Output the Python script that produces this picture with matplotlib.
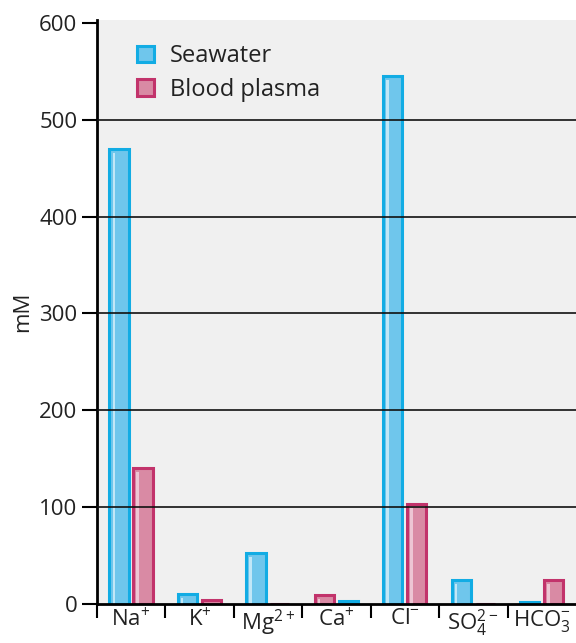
import matplotlib
matplotlib.use("Agg")
import matplotlib.pyplot as plt
import numpy as np

# data
ions = ["Na$^{+}$", "K$^{+}$", "Mg$^{2+}$", "Ca$^{+}$", "Cl$^{-}$", "SO$_4^{2-}$", "HCO$_3^{-}$"]
seawater = [470, 10, 53, 3, 545, 25, 2]
plasma = [140, 4, 0, 9, 103, 0, 25]
# in the Ca group the figure draws plasma first
plasma_first = [False, False, False, True, False, False, False]
yticks = [0, 100, 200, 300, 400, 500, 600]

plt.rcParams['font.family'] = ['Open Sans', 'DejaVu Sans']
plt.rcParams['mathtext.default'] = 'regular'

sea_edge, sea_face, sea_hi = "#12ace4", "#6fc6ec", "#d6f0fb"
pla_edge, pla_face, pla_hi = "#c2336b", "#d98aa4", "#f3d5df"

fig = plt.figure(figsize=(5.76, 6.43), dpi=100)
ax = fig.add_axes([0.168, 0.0607, 0.832, 0.9083])
ax.set_facecolor("#f0f0f0")

x = np.arange(len(ions)) + 0.5
off = 0.175
w = 0.28
flip = np.where(plasma_first, -1, 1)
xs = x - off * flip
xp = x + off * flip

def draw(xpos, vals, edge, face, hi, label):
    ax.bar(xpos, vals, width=w, color=face, edgecolor=edge, linewidth=2.2,
           label=label, zorder=2)
    # inner highlight strip on the left side
    v = np.array(vals, dtype=float)
    hv = np.clip(v - 4, 0, None)
    ax.bar(xpos - w * 0.28, hv, width=w * 0.12, color=hi, alpha=0.8,
           linewidth=0, zorder=2.1)

draw(xs, seawater, sea_edge, sea_face, sea_hi, "Seawater")
draw(xp, plasma, pla_edge, pla_face, pla_hi, "Blood plasma")

for v in yticks[1:-1]:
    ax.axhline(v, color="#111111", linewidth=1.2, zorder=3)

ax.set_xlim(0, len(ions))
ax.set_ylim(0, 603)
ax.set_yticks(yticks)
ax.tick_params(axis='y', length=11, width=1.5, labelsize=16, direction='out', pad=3,
               labelcolor="#222222")
ax.set_xticks(np.arange(len(ions)))
ax.set_xticklabels([])
ax.set_xticks(x, minor=True)
ax.set_xticklabels(ions, minor=True, fontsize=16, color="#222222")
ax.tick_params(axis='x', which='major', length=10, width=1.5, direction='out')
ax.tick_params(axis='x', which='minor', length=0, pad=3)
ax.set_ylabel("mM", fontsize=16, labelpad=4, color="#222222")

for s in ['top', 'right']:
    ax.spines[s].set_visible(False)
ax.spines['left'].set_linewidth(2)
ax.spines['bottom'].set_linewidth(2)

ax.legend(loc='upper left', bbox_to_anchor=(0.04, 0.995), frameon=False,
          fontsize=17, handlelength=0.7, handleheight=0.7,
          handletextpad=0.7, labelspacing=0.4, labelcolor="#222222")

plt.savefig("out.png", dpi=100)
